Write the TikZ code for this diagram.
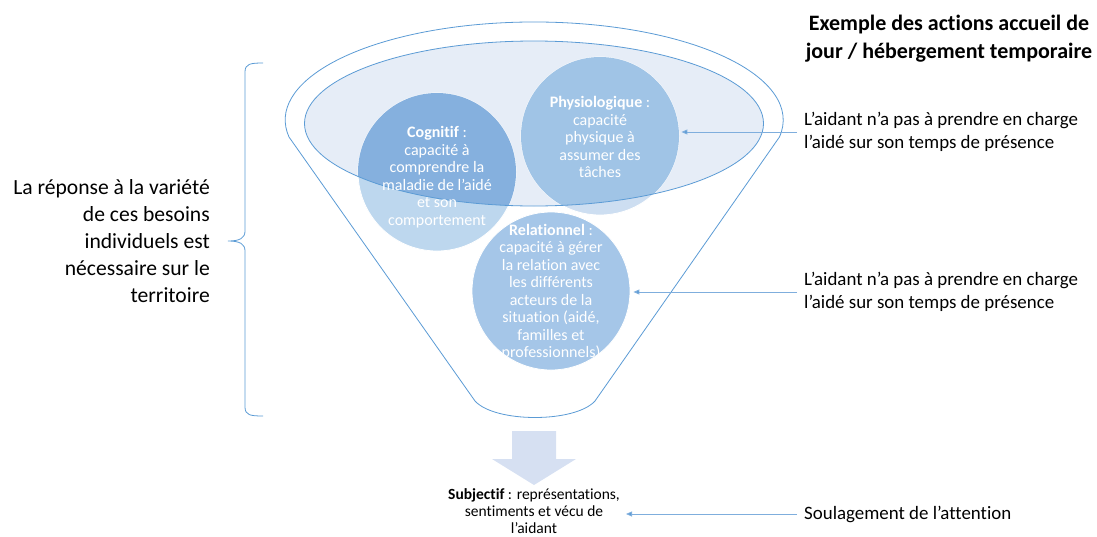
\documentclass[tikz,border=0pt]{standalone}
\usepackage{fontspec}
\setmainfont{Carlito}[Ligatures={NoCommon}]
\usetikzlibrary{arrows.meta}
\definecolor{fline}{HTML}{5B9BD5}
\definecolor{ellfill}{HTML}{E6EDF7}
\definecolor{cogout}{HTML}{BDD7EE}
\definecolor{cogin}{HTML}{85B0DE}
\definecolor{phyout}{HTML}{CDDEF1}
\definecolor{phyin}{HTML}{A0C4E6}
\definecolor{relfill}{HTML}{A5C6E8}
\definecolor{arrfill}{HTML}{D6E0F2}
\definecolor{conncol}{HTML}{7FAEDD}
\tikzset{
  bubble/.style={circle, minimum size=158pt, inner sep=0pt, draw=white, line width=0.8pt},
  ctext/.style={text=white, align=center, inner sep=0pt, font=\fontsize{16}{17.5}\selectfont},
  rtext/.style={align=left, anchor=west, inner sep=0pt, font=\fontsize{18.9}{23}\selectfont},
  conn/.style={draw=conncol, line width=0.9pt, -{Triangle[length=6pt,width=5pt,fill=fline]}},
}
\begin{document}
\begin{tikzpicture}[x=1pt,y=-1pt]
\useasboundingbox (0,0) rectangle (1097,536);
% funnel outline
\draw[fline, line width=0.8pt, fill=white]
  (289,137) arc[start angle=170, end angle=370, x radius=249, y radius=98]
  -- (595,401) .. controls (575,423) and (495,423) .. (475,401) -- cycle;
% inner ellipse fill
\fill[ellfill] (534,123.5) ellipse [x radius=229.5, y radius=82.5];
% bubbles
\node[bubble, fill=cogout] (cog) at (437,172) {};
\node[bubble, fill=phyout] (phy) at (600,136) {};
\node[bubble, fill=relfill] (rel) at (551,291) {};
\begin{scope}
  \clip (534,123.5) ellipse [x radius=229.5, y radius=82.5];
  \fill[cogin] (437,172) circle[radius=79];
  \fill[phyin] (600,136) circle[radius=79];
\end{scope}
\draw[fline, line width=0.8pt] (534,123.5) ellipse [x radius=229.5, y radius=82.5];
% bubble texts
\node[ctext] at (437,177) {\textbf{Cognitif} :\\capacité à\\comprendre la\\maladie de l’aidé\\et son\\comportement};
\node[ctext] at (600,137) {\textbf{Physiologique} :\\capacité\\physique à\\assumer des\\tâches};
\node[ctext] at (551,292) {\textbf{Relationnel} :\\capacité à gérer\\la relation avec\\les différents\\acteurs de la\\situation (aidé,\\familles et\\professionnels)};
% block arrow
\fill[arrfill] (512,431) -- (556,431) -- (556,459) -- (576,459) -- (534,485) -- (492,459) -- (512,459) -- cycle;
% subjectif
\node[align=center, inner sep=0pt, font=\fontsize{15.5}{17}\selectfont] (subj) at (534,511.5) {\textbf{Subjectif} : représentations,\\sentiments et vécu de\\l’aidant};
% title
\node[align=center, inner sep=0pt, font=\bfseries\fontsize{22}{28}\selectfont] (title) at (949,39) {Exemple des actions accueil de\\jour / hébergement temporaire};
% right texts
\node[rtext] (t1) at (804,132) {L’aidant n’a pas à prendre en charge\\l’aidé sur son temps de présence};
\node[rtext] (t2) at (804,292) {L’aidant n’a pas à prendre en charge\\l’aidé sur son temps de présence};
\node[rtext] (t3) at (804,514) {Soulagement de l’attention};
\draw[conn] ([xshift=-7pt]t1.west) -- ([xshift=2pt]t1.west -| phy.east);
\draw[conn] ([xshift=-7pt]t2.west) -- ([xshift=3pt]t2.west -| rel.east);
\draw[conn] ([xshift=-7pt]t3.west) -- ([xshift=6pt]t3.west -| subj.east);
% left text and brace
\node[align=right, anchor=east, inner sep=0pt, font=\fontsize{21.6}{27}\selectfont] (left) at (210,241) {La réponse à la variété\\de ces besoins\\individuels est\\nécessaire sur le\\territoire};
\coordinate (btip) at ([xshift=18pt]left.east);
\draw[fline, line width=0.8pt]
  (263,63) .. controls (250,63) and (245,64) .. (245,72) -- (245,231)
  .. controls (245,238) and (240,241) .. (btip)
  .. controls (240,241) and (245,244) .. (245,251) -- (245,407)
  .. controls (245,415) and (250,416) .. (263,416);
\end{tikzpicture}
\end{document}
